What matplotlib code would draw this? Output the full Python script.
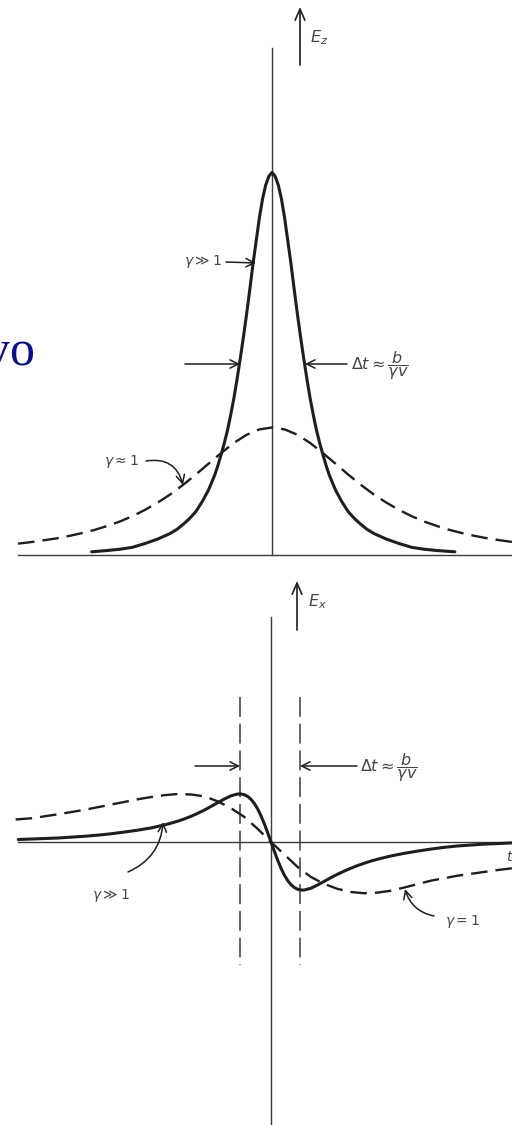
import matplotlib
matplotlib.use("Agg")
import matplotlib.pyplot as plt
from matplotlib.patches import FancyArrowPatch

W, H, DPI = 512, 1125, 100

INK = "#1e1e1e"
AXIS = "#3c3c3c"
TXT = "#454545"

# ---- upper panel: E_z(t) -------------------------------------------------
t_fast_z = [-1.42, -1.3, -1.2, -1.1, -1.0, -0.9, -0.8, -0.75, -0.7, -0.65,
            -0.6, -0.55, -0.5, -0.475, -0.45, -0.425, -0.4, -0.375, -0.35,
            -0.325, -0.3, -0.275, -0.25, -0.225, -0.2, -0.175, -0.15,
            -0.125, -0.1, -0.075, -0.05, -0.025, 0.0,
            0.025, 0.05, 0.075, 0.1, 0.125, 0.15, 0.175, 0.2, 0.225, 0.25,
            0.275, 0.3, 0.325, 0.35, 0.375, 0.4, 0.425, 0.45, 0.475, 0.5,
            0.55, 0.6, 0.65, 0.7, 0.75, 0.8, 0.9, 1.0, 1.1, 1.2, 1.3, 1.44]
ez_fast = [0.025, 0.035, 0.045, 0.06, 0.09, 0.125, 0.17, 0.20, 0.24, 0.285,
           0.34, 0.418, 0.51, 0.569, 0.63, 0.705, 0.79, 0.88, 0.98,
           1.10, 1.23, 1.38, 1.54, 1.71, 1.89, 2.08, 2.28,
           2.46, 2.64, 2.79, 2.90, 2.97, 3.0,
           2.97, 2.90, 2.79, 2.64, 2.46, 2.28, 2.08, 1.89, 1.71, 1.54,
           1.38, 1.23, 1.10, 0.98, 0.88, 0.79, 0.705, 0.63, 0.569, 0.51,
           0.418, 0.34, 0.285, 0.24, 0.20, 0.17, 0.125, 0.09, 0.06, 0.045,
           0.035, 0.025]

t_slow_z = [-2.0, -1.9, -1.8, -1.7, -1.6, -1.5, -1.4, -1.3, -1.2, -1.1,
            -1.0, -0.9, -0.8, -0.7, -0.6, -0.5, -0.4, -0.3, -0.2, -0.1,
            0.0, 0.1, 0.2, 0.3, 0.4, 0.5, 0.6, 0.7, 0.8, 0.9, 1.0, 1.1,
            1.2, 1.3, 1.4, 1.5, 1.6, 1.7, 1.8, 1.9, 2.0]
ez_slow = [0.089, 0.101, 0.115, 0.130, 0.149, 0.171, 0.196, 0.227, 0.262,
           0.304, 0.354, 0.411, 0.476, 0.550, 0.631, 0.716, 0.800, 0.879,
           0.943, 0.985, 1.0, 0.985, 0.943, 0.879, 0.800, 0.716, 0.631,
           0.550, 0.476, 0.411, 0.354, 0.304, 0.262, 0.227, 0.196, 0.171,
           0.149, 0.130, 0.115, 0.101, 0.089]

# ---- lower panel: E_x(t) -------------------------------------------------
t_fast_x = [-1.9, -1.8, -1.6, -1.4, -1.3, -1.2, -1.1, -1.0, -0.9, -0.8,
            -0.75, -0.7, -0.65, -0.6, -0.55, -0.5, -0.45, -0.4, -0.35, -0.3,
            -0.25, -0.225, -0.2, -0.175, -0.15, -0.125, -0.1, -0.075, -0.05,
            -0.025, 0.0, 0.025, 0.05, 0.075, 0.1, 0.125, 0.15, 0.175, 0.2,
            0.225, 0.25, 0.3, 0.35, 0.4, 0.45, 0.5, 0.55, 0.6, 0.65, 0.7,
            0.75, 0.8, 0.9, 1.0, 1.1, 1.2, 1.3, 1.4, 1.6, 1.8, 1.95]
ex_fast = [0.02, 0.024, 0.032, 0.046, 0.055, 0.066, 0.080, 0.095, 0.113,
           0.137, 0.151, 0.167, 0.185, 0.206, 0.230, 0.256, 0.285, 0.315,
           0.344, 0.370, 0.384, 0.384, 0.378, 0.364, 0.341, 0.308, 0.264,
           0.209, 0.145, 0.074, 0.0, -0.074, -0.145, -0.209, -0.264, -0.308,
           -0.341, -0.364, -0.378, -0.384, -0.384, -0.370, -0.344, -0.315,
           -0.285, -0.258, -0.233, -0.21, -0.189, -0.17, -0.153, -0.138,
           -0.112, -0.091, -0.073, -0.057, -0.043, -0.032, -0.017, -0.008,
           -0.004]

t_slow_x = [-1.92, -1.8, -1.6, -1.4, -1.2, -1.0, -0.9, -0.8, -0.7, -0.6,
            -0.5, -0.4, -0.3, -0.2, -0.1, 0.0, 0.1, 0.2, 0.3, 0.4, 0.5, 0.6,
            0.7, 0.8, 0.9, 1.0, 1.1, 1.2, 1.3, 1.4, 1.5, 1.6, 1.7, 1.85]
ex_slow = [0.18, 0.19, 0.222, 0.258, 0.30, 0.342, 0.36, 0.375, 0.384, 0.38,
           0.365, 0.325, 0.27, 0.20, 0.105, 0.0, -0.10, -0.20, -0.28,
           -0.335, -0.375, -0.40, -0.41, -0.405, -0.39, -0.365, -0.337,
           -0.31, -0.29, -0.27, -0.255, -0.24, -0.225, -0.205]

# pulse-width markers (dashed verticals in the E_x panel)
dt_marks = [-0.233, 0.218]

fig = plt.figure(figsize=(W / DPI, H / DPI), dpi=DPI)
fig.patch.set_facecolor("white")


def fp(x, y):
    """Figure-pixel coordinates measured from the top-left corner."""
    return (x, H - y)


curve_kw = dict(color=INK, lw=2.2, solid_capstyle="round",
                solid_joinstyle="round")
dash_kw = dict(color=INK, lw=1.7, dashes=(7.0, 3.4),
               dash_joinstyle="round")

# upper axes: y pixels 0..580, origin at (272, 555)
ax1 = fig.add_axes([0, (H - 580) / H, 1, 580 / H])
ax1.set_xlim(-272 / 127, 240 / 127)
ax1.set_ylim((555 - 580) / 127.5, 555 / 127.5)
ax1.axis("off")

ax1.plot([-2.0, 1.95], [0, 0], color=AXIS, lw=1.0)
ax1.plot([0, 0], [0, 3.98], color=AXIS, lw=1.0)
ax1.plot(t_slow_z, ez_slow, **dash_kw)
ax1.plot(t_fast_z, ez_fast, **curve_kw)

# lower axes: y pixels 580..1125, origin at (271, 842)
ax2 = fig.add_axes([0, 0, 1, 545 / H])
ax2.set_xlim(-271 / 133, 241 / 133)
ax2.set_ylim((842 - 1125) / 125, (842 - 580) / 125)
ax2.axis("off")

ax2.plot([-1.905, 1.9], [0, 0], color=AXIS, lw=1.0)
ax2.plot([0, 0], [1.8, -2.4], color=AXIS, lw=1.0)
for tm in dt_marks:
    ax2.plot([tm, tm], [1.16, -0.985], color=AXIS, lw=1.1, dashes=(13.0, 4.5))
ax2.plot(t_slow_x, ex_slow, **dash_kw)
ax2.plot(t_fast_x, ex_fast, **curve_kw)

straight = dict(arrowstyle="->,head_length=0.6,head_width=0.3",
                color=INK, lw=1.1, shrinkA=0, shrinkB=0, mutation_scale=10)
axis_arrow = dict(arrowstyle="->,head_length=0.8,head_width=0.35",
                  color=INK, lw=1.2, shrinkA=0, shrinkB=0, mutation_scale=10)


def arrow(p0, p1, props, rad=0.0):
    pr = dict(props)
    if rad:
        pr["connectionstyle"] = f"arc3,rad={rad}"
    fig.add_artist(FancyArrowPatch(posA=fp(*p0), posB=fp(*p1),
                                   transform=None, **pr))


def label(x, y, s, size=8, ha="left", **kw):
    fig.text(x / W, 1 - y / H, s, fontsize=size, ha=ha, va="center",
             color=TXT, **kw)


# axis arrows and names
arrow((300, 65), (300, 7), axis_arrow)
label(310, 38, r"$E_z$", size=11.5)
arrow((297, 630), (297, 581), axis_arrow)
label(308, 602, r"$E_x$", size=11.5)
label(506, 857, r"$t$", size=10)

# upper panel annotations
label(184, 262, r"$\gamma \gg 1$", size=10)
arrow((226, 262), (256, 263), straight)
arrow((185, 364), (240, 364), straight)
arrow((347, 364), (305, 364), straight)
label(351, 366, r"$\Delta t \approx \dfrac{b}{\gamma v}$", size=11.5)
label(104, 461, r"$\gamma \approx 1$", size=10)
arrow((146, 461), (183, 485), straight, rad=-0.45)

# lower panel annotations
arrow((195, 766), (240, 766), straight)
arrow((357, 766), (300, 766), straight)
label(360, 768, r"$\Delta t \approx \dfrac{b}{\gamma v}$", size=11.5)
label(92, 895, r"$\gamma \gg 1$", size=10)
arrow((128, 872), (163, 822), straight, rad=0.3)
label(445, 922, r"$\gamma = 1$", size=10)
arrow((434, 916), (405, 889), straight, rad=-0.3)

# fragment of slide text at the left margin
fig.text(35 / W, 1 - 365 / H, "vo", fontsize=36, family="Liberation Serif",
         color="#0c0c8e", ha="right", va="baseline")

fig.savefig("out.png", dpi=DPI, facecolor="white")
